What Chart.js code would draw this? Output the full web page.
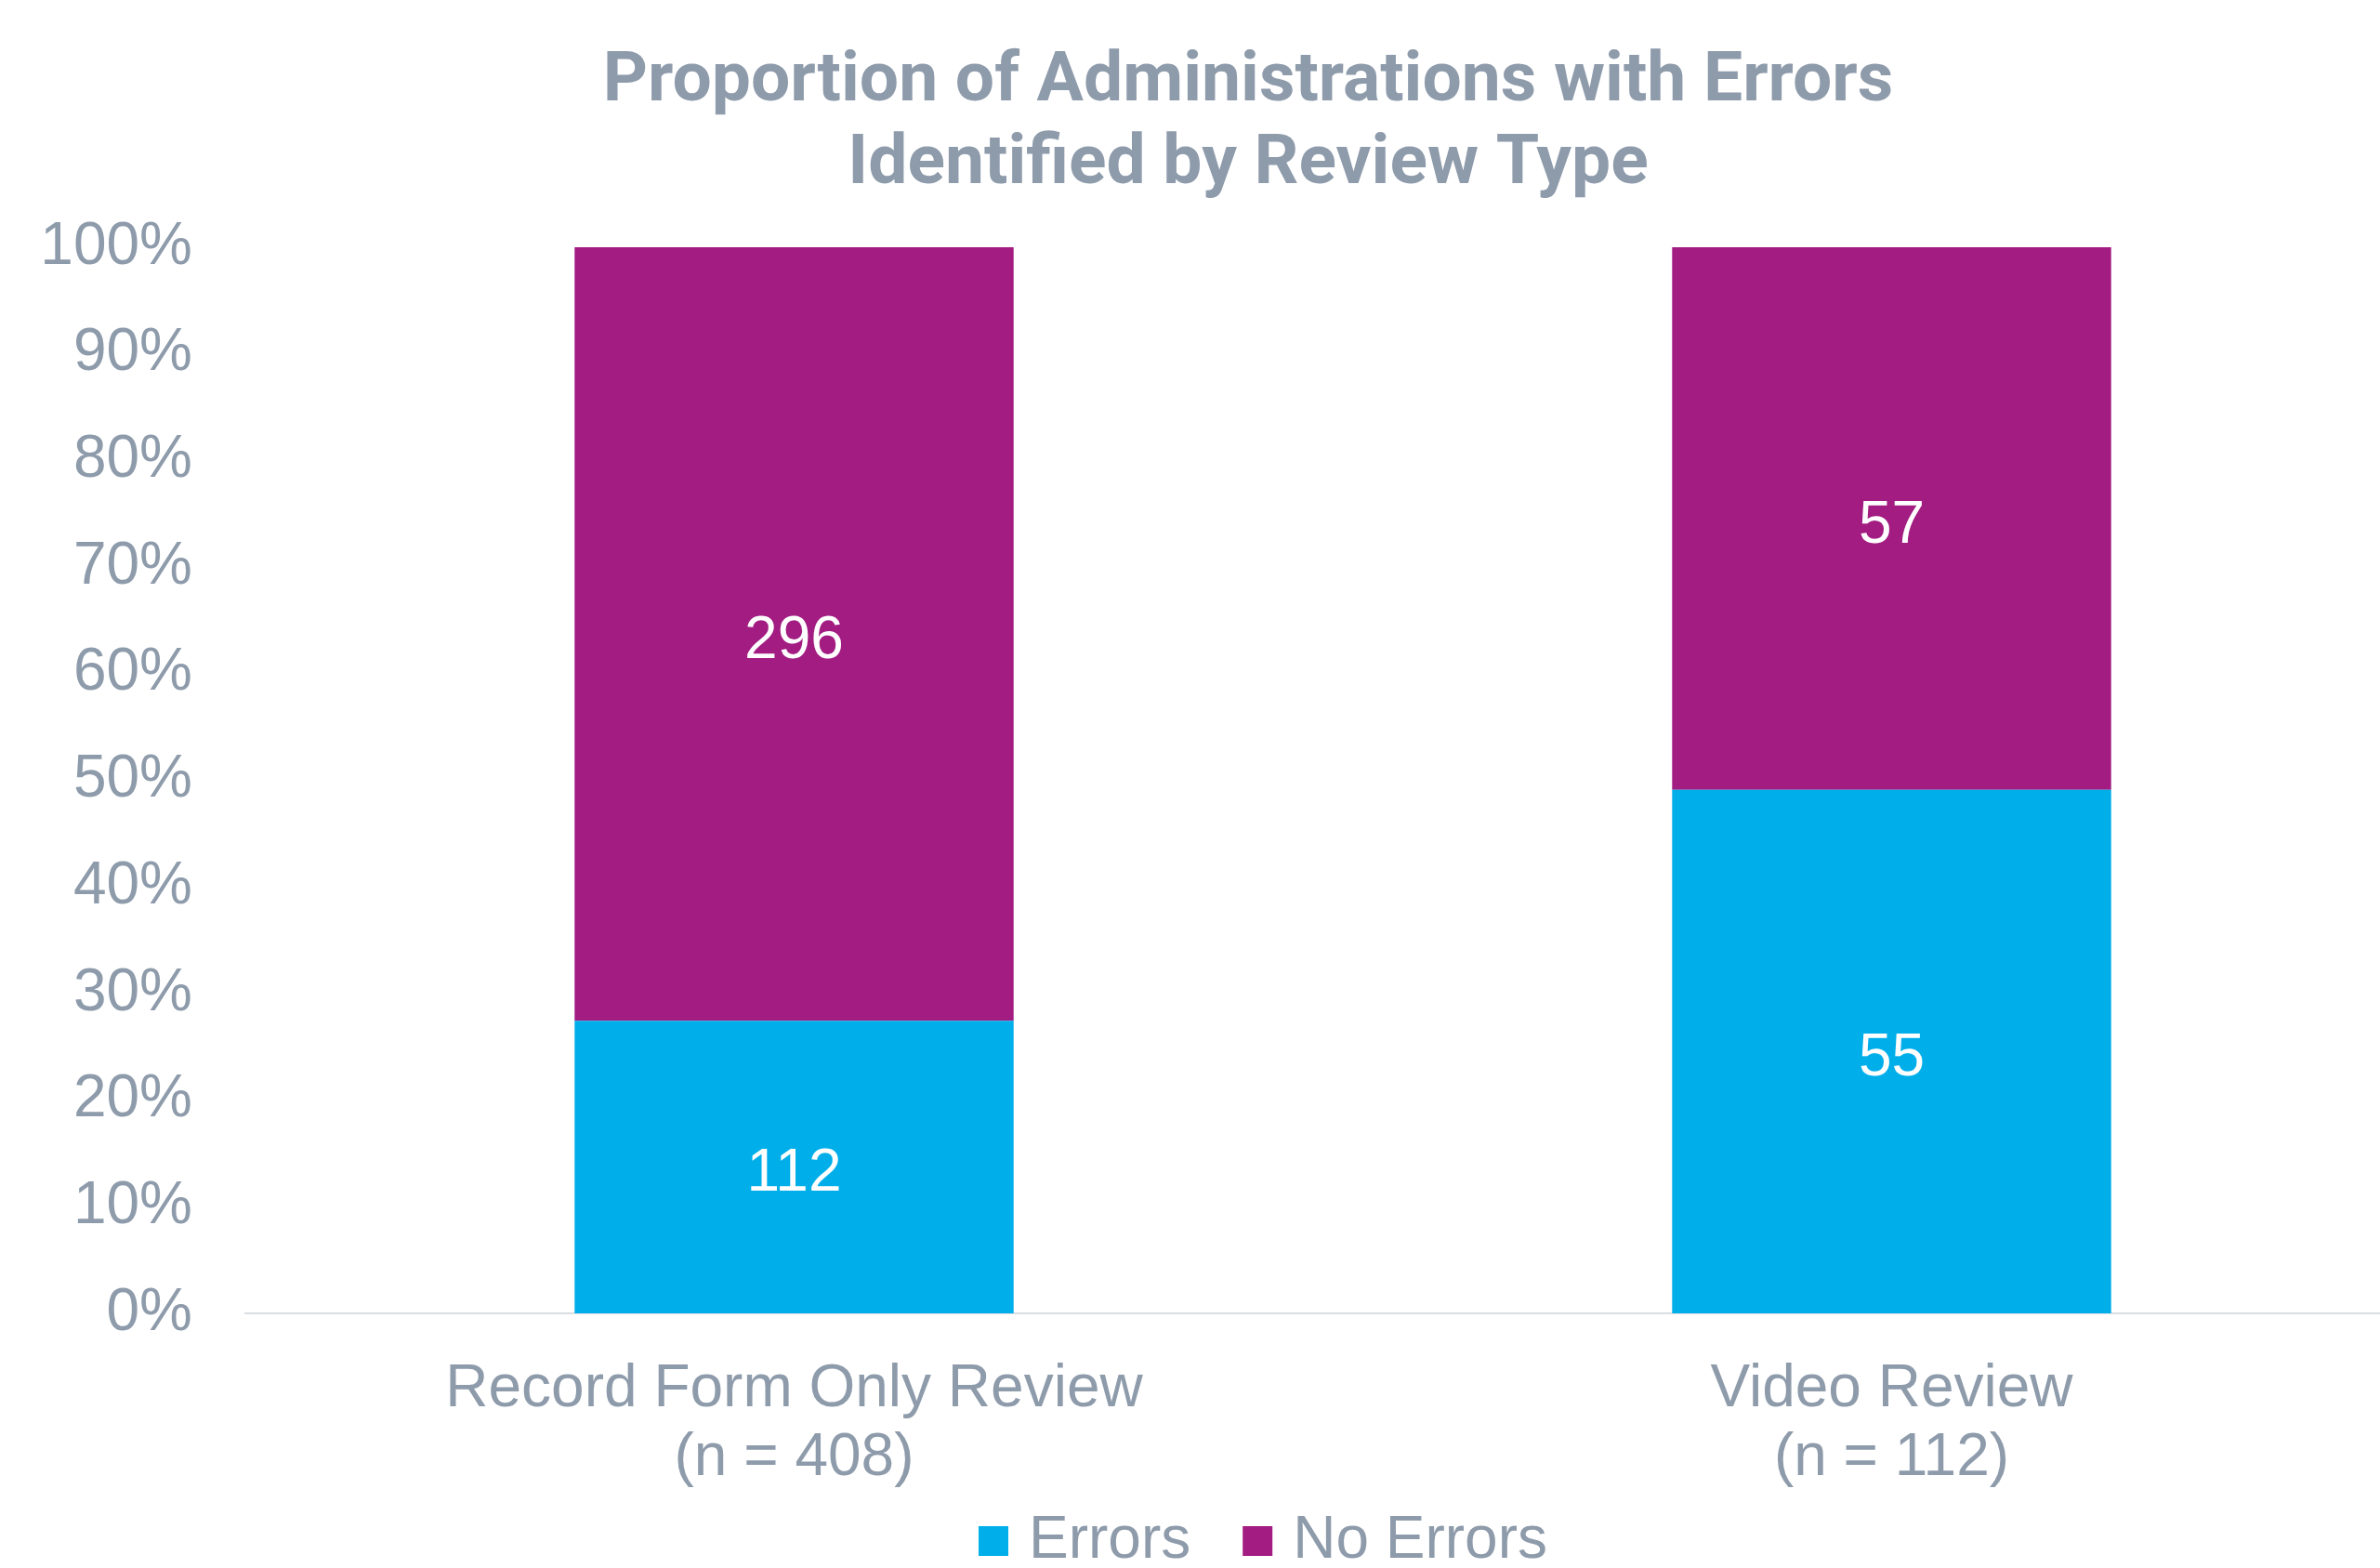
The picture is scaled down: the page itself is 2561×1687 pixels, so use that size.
<!DOCTYPE html>
<html lang="en">
<head>
  <meta charset="UTF-8" />
  <title>Proportion of Administrations with Errors</title>
  <script src="https://cdn.jsdelivr.net/npm/chart.js"></script>
  <style>
    html, body { margin: 0; padding: 0; background: #fff; overflow: hidden; }
    #wrap { width: 2690px; height: 1753px; }
  </style>
</head>
<body>
  <div id="wrap">
    <canvas id="chart" width="2690" height="1753"></canvas>
  </div>

  <script>
    // data
    const categories = ['Record Form Only Review', 'Video Review'];
    const errorsCount = [112, 55];
    const noErrorsCount = [296, 57];
    const seriesNames = ['Errors', 'No Errors'];

    const totals = categories.map((c, i) => errorsCount[i] + noErrorsCount[i]);
    const errorsPct = errorsCount.map((v, i) => v / totals[i] * 100);
    const noErrorsPct = noErrorsCount.map((v, i) => v / totals[i] * 100);
    const labels = categories.map((c, i) => [c, '(n = ' + totals[i] + ')']);

    const gray = '#8E9BAB';
    const cyan = '#00AEEA';
    const purple = '#A21C82';
    const sans = '"Liberation Sans", Arial, sans-serif';

    // white count labels in the middle of each segment
    const countLabels = {
      id: 'countLabels',
      afterDatasetsDraw(chart) {
        const ctx = chart.ctx;
        ctx.save();
        ctx.fillStyle = '#fff';
        ctx.font = '64px ' + sans;
        ctx.textAlign = 'center';
        ctx.textBaseline = 'middle';
        chart.data.datasets.forEach((ds, di) => {
          chart.getDatasetMeta(di).data.forEach((bar, i) => {
            ctx.fillText(String(ds.counts[i]), bar.x, (bar.y + bar.base) / 2 + 8);
          });
        });
        ctx.restore();
      }
    };

    // title and legend are centred a little right of the plot in the original,
    // and the legend row sits tighter under the axis labels
    const boxNudge = {
      id: 'boxNudge',
      afterLayout(chart) {
        const t = chart.titleBlock;
        t.left += 30;
        t.right += 30;
        const lg = chart.legend;
        lg.left += 51;
        lg.right += 51;
        lg.top -= 53;
        lg.bottom -= 53;
      }
    };

    new Chart(document.getElementById('chart'), {
      type: 'bar',
      data: {
        labels,
        datasets: [
          { label: seriesNames[0], data: errorsPct, counts: errorsCount, backgroundColor: cyan, borderWidth: 0 },
          { label: seriesNames[1], data: noErrorsPct, counts: noErrorsCount, backgroundColor: purple, borderWidth: 0 }
        ]
      },
      options: {
        responsive: false,
        animation: false,
        layout: { padding: { left: 0, right: 64, top: 0, bottom: 0 } },
        datasets: { bar: { barPercentage: 1, categoryPercentage: 0.4 } },
        plugins: {
          tooltip: { enabled: false },
          title: {
            display: true,
            text: ['Proportion of Administrations with Errors', 'Identified by Review Type'],
            color: gray,
            font: { family: 'Roboto, sans-serif', size: 75, weight: 'bold', lineHeight: 1.1867 },
            padding: { top: 45, bottom: 43 }
          },
          legend: {
            position: 'bottom',
            labels: {
              color: gray,
              font: { family: sans, size: 64 },
              usePointStyle: true,
              pointStyle: 'rect',
              boxWidth: 12,
              boxHeight: 32,
              padding: 66
            }
          }
        },
        scales: {
          x: {
            stacked: true,
            grid: { display: false, drawTicks: false },
            border: { display: true, color: '#D9DEE3', width: 2 },
            ticks: {
              color: gray,
              font: { family: sans, size: 64, lineHeight: 1.156 },
              padding: 45,
              maxRotation: 0
            },
            afterFit(s) { s.height = 200; }
          },
          y: {
            stacked: true,
            min: 0,
            max: 100,
            grid: { display: false, drawTicks: false },
            border: { display: false },
            ticks: {
              stepSize: 10,
              color: gray,
              font: { family: sans, size: 64 },
              padding: 57,
              callback: v => v + '%'
            },
            afterFit(s) { s.width = 264; }
          }
        }
      },
      plugins: [countLabels, boxNudge]
    });
  </script>
</body>
</html>
